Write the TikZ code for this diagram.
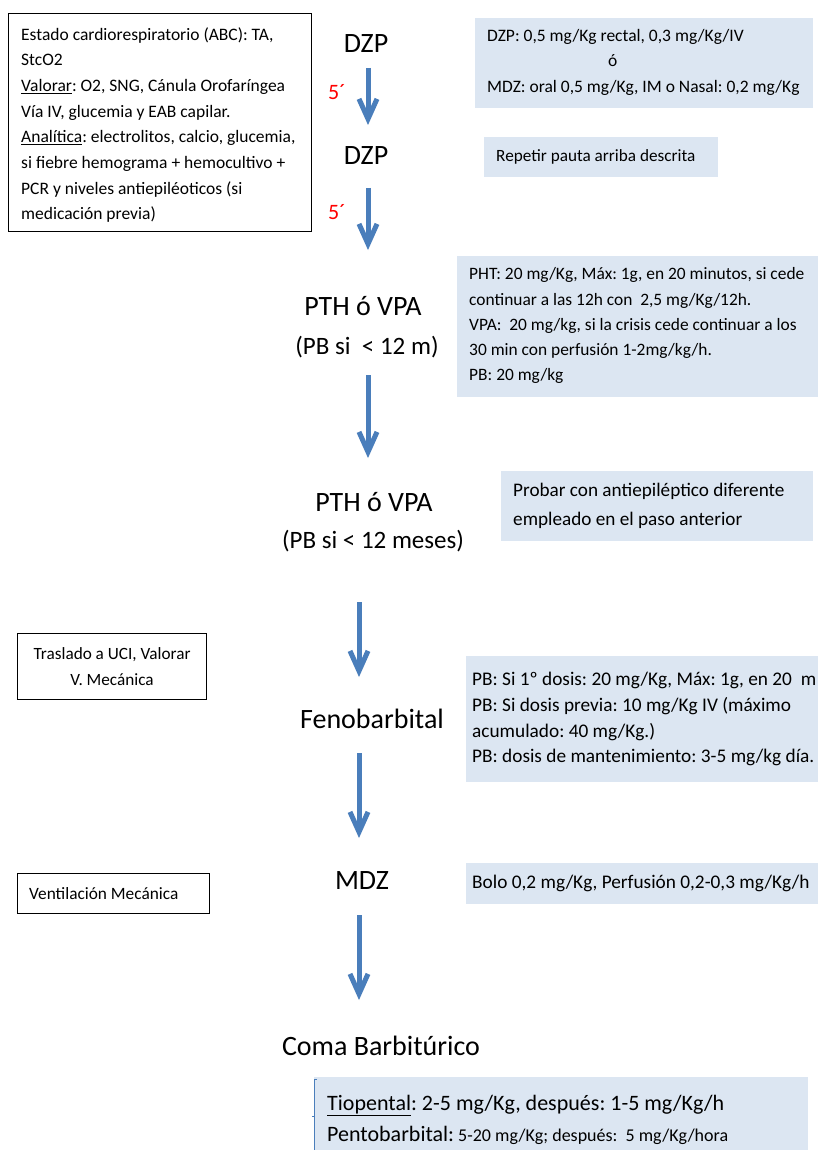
\documentclass[tikz,border=0pt]{standalone}
\usepackage{fontspec}
\setmainfont{Carlito}
\usetikzlibrary{arrows.meta}

\definecolor{flowblue}{HTML}{4A7EBB}
\definecolor{notefill}{HTML}{DCE6F2}
\definecolor{delayred}{HTML}{FF0000}

\newcommand\fsz[2]{\fontsize{#1}{#2}\selectfont}
\frenchspacing

\tikzset{
  drug/.style={inner sep=0pt, anchor=base, font=\fsz{28}{32}},
  drugsub/.style={inner sep=0pt, anchor=base, font=\fsz{25}{30}},
  notebox/.style={fill=notefill, draw=none, anchor=north west, inner sep=0pt},
  framebox/.style={draw=black, line width=1.2pt, anchor=north west, inner sep=0pt},
  notetext/.style={anchor=west, align=left, inner sep=0pt},
  flow/.style={draw=flowblue, line width=5pt, -{Straight Barb[length=20pt,width=18pt]}},
  delay/.style={text=delayred, font=\fsz{22}{26}, inner sep=0pt, anchor=base west},
}

\begin{document}
\begin{tikzpicture}[x=1pt,y=-1pt]
\useasboundingbox (0,0) rectangle (818,1150);
\fill[white] (0,0) rectangle (818,1150);

% ---- initial assessment box (top left)
\node[framebox, minimum width=303pt, minimum height=218pt] (abcbox) at (8,13) {};
\node[notetext, font=\fsz{17.5}{25.7}] (abctext) at (21,125) {%
Estado cardiorespiratorio (ABC): TA,\\
StcO2\\
\underline{Valorar}: O2, SNG, Cánula Orofaríngea\\
Vía IV, glucemia y EAB capilar.\\
\underline{Analítica}: electrolitos, calcio, glucemia,\\
si fiebre hemograma + hemocultivo +\\
PCR y niveles antiepiléoticos (si\\
medicación previa)};

% ---- main sequence of drugs
\node[drug] (dzp1) at (366,53) {DZP};
\node[drug] (dzp2) at (366,165) {DZP};
\node[drug] (pth1) at (363,315) {PTH ó VPA};
\node[drugsub] (pth1sub) at (367,354) {(PB si\ \ < 12 m)};
\node[drug] (pth2) at (374,511) {PTH ó VPA};
\node[drugsub] (pth2sub) at (373,548) {(PB si < 12 meses)};
\node[drug] (feno) at (372,728) {Fenobarbital};
\node[drug] (mdz) at (362,889) {MDZ};
\node[drug] (coma) at (381,1055) {Coma Barbitúrico};

% ---- waiting times
\node[delay] (wait1) at (328,100) {5´};
\node[delay] (wait2) at (328,220) {5´};

% ---- arrows between steps
\coordinate (a1s) at (368,68);   \coordinate (a1e) at (368,125);
\coordinate (a2s) at (368,188);  \coordinate (a2e) at (368,250);
\coordinate (a3s) at (368,375);  \coordinate (a3e) at (368,458);
\coordinate (a4s) at (359,602);  \coordinate (a4e) at (359,677);
\coordinate (a5s) at (359,753);  \coordinate (a5e) at (359,838);
\coordinate (a6s) at (359,915);  \coordinate (a6e) at (359,1000);
\draw[flow] (a1s) -- (a1e);
\draw[flow] (a2s) -- (a2e);
\draw[flow] (a3s) -- (a3e);
\draw[flow] (a4s) -- (a4e);
\draw[flow] (a5s) -- (a5e);
\draw[flow] (a6s) -- (a6e);

% ---- dosage notes
\node[notebox, minimum width=338pt, minimum height=90pt] (dzpnote) at (475,18) {};
\node[notetext, font=\fsz{17.5}{25.5}] (dzptext) at ([xshift=12pt,yshift=1pt]dzpnote.west) {%
DZP: 0,5 mg/Kg rectal, 0,3 mg/Kg/IV\\
\hspace*{121pt}ó\\
MDZ: oral 0,5 mg/Kg, IM o Nasal: 0,2 mg/Kg};

\node[notebox, minimum width=234pt, minimum height=40pt] (repnote) at (484,137) {};
\node[notetext, font=\fsz{17.2}{21}] (reptext) at ([xshift=12pt]repnote.west) {Repetir pauta arriba descrita};

\node[notebox, minimum width=361pt, minimum height=141pt] (phtnote) at (457,256) {};
\node[notetext, font=\fsz{17.4}{25.2}] (phttext) at ([xshift=12pt,yshift=1pt]phtnote.west) {%
PHT: 20 mg/Kg, Máx: 1g, en 20 minutos, si cede\\
continuar a las 12h con\ \ 2,5 mg/Kg/12h.\\
VPA:\ \ 20 mg/kg, si la crisis cede continuar a los\\
30 min con perfusión 1-2mg/kg/h.\\
PB: 20 mg/kg};

\node[notebox, minimum width=312pt, minimum height=70pt] (probnote) at (501,471) {};
\node[notetext, font=\fsz{19.2}{29}] (probtext) at ([xshift=12pt]probnote.west) {%
Probar con antiepiléptico diferente\\
empleado en el paso anterior};

\node[notebox, minimum width=352pt, minimum height=126pt] (fenonote) at (466,656) {};
\node[notetext, font=\fsz{19.3}{25.7}] (fenotext) at ([xshift=6pt]fenonote.west) {%
PB: Si 1º dosis: 20 mg/Kg, Máx: 1g, en 20\ \ m\\
PB: Si dosis previa: 10 mg/Kg IV (máximo\\
acumulado: 40 mg/Kg.)\\
PB: dosis de mantenimiento: 3-5 mg/kg día.};

\node[notebox, minimum width=352pt, minimum height=41pt] (mdznote) at (466,863) {};
\node[notetext, font=\fsz{19.3}{23}] (mdztext) at ([xshift=6pt]mdznote.west) {Bolo 0,2 mg/Kg, Perfusión 0,2-0,3 mg/Kg/h};

\node[notebox, minimum width=494pt, minimum height=80pt] (comanote) at (314,1077) {};
\node[notetext, font=\fsz{22}{31}] (comatext) at (327,1120) {%
\underline{Tiopental}: 2-5 mg/Kg, después: 1-5 mg/Kg/h\\
Pentobarbital:{\fsz{18}{31} 5-20 mg/Kg; después:\ \ 5 mg/Kg/hora}};
\draw[flowblue, line width=0.8pt] (316.5,1079) -- (314,1079) -- (314,1150);
\draw[flowblue, line width=0.8pt] (314,1116) -- (311.5,1116);

% ---- care level boxes (left)
\node[framebox, minimum width=189pt, minimum height=66pt] (ucibox) at (17,633) {};
\node[align=center, inner sep=0pt, font=\fsz{17.2}{26}] (ucitext) at (ucibox.center) {%
Traslado a UCI, Valorar\\
V. Mecánica};

\node[framebox, minimum width=192pt, minimum height=40pt] (ventbox) at (17,873) {};
\node[notetext, font=\fsz{17.3}{21}] (venttext) at ([xshift=12pt]ventbox.west) {Ventilación Mecánica};

\end{tikzpicture}
\end{document}
